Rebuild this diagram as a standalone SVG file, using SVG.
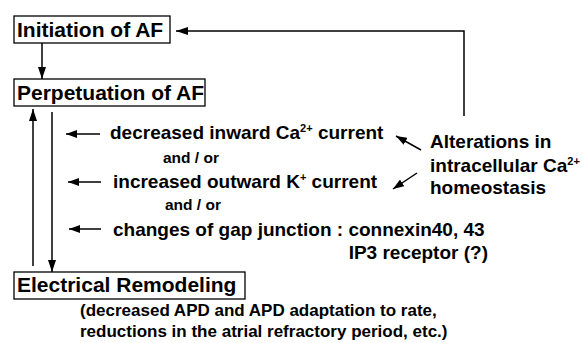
<svg xmlns="http://www.w3.org/2000/svg" width="583" height="343" viewBox="0 0 583 343">
<style>
.box{fill:#fff;stroke:#000;stroke-width:1.3}
.hd{font-family:"Liberation Sans",Arial,sans-serif;font-weight:bold;font-size:21px;fill:#000}
.tx{font-family:"Liberation Sans",Arial,sans-serif;font-weight:bold;font-size:19px;fill:#000}
.sm{font-family:"Liberation Sans",Arial,sans-serif;font-weight:bold;font-size:15.5px;fill:#000}
.nt{font-family:"Liberation Sans",Arial,sans-serif;font-weight:bold;font-size:17px;fill:#000}
.sup{font-size:11px}
.ln{fill:none;stroke:#000;stroke-width:1.5}
</style>
<defs>
<marker id="ah" viewBox="0 0 12 8" refX="12" refY="4" markerWidth="12" markerHeight="8" markerUnits="userSpaceOnUse" orient="auto">
<path d="M0,0 L12,4 L0,8 z" fill="#000"/>
</marker>
<marker id="ahs" viewBox="0 0 11 8" refX="11" refY="4" markerWidth="11" markerHeight="8" markerUnits="userSpaceOnUse" orient="auto">
<path d="M0,0 L11,4 L0,8 z" fill="#000"/>
</marker>
</defs>
<g id="connectors">
<path class="ln" d="M464,116 V31 H176" marker-end="url(#ah)"/>
<path class="ln" d="M42,43 V79" marker-end="url(#ah)"/>
<path class="ln" d="M33,266 V109" marker-end="url(#ah)"/>
<path class="ln" d="M52,112 V272" marker-end="url(#ah)"/>
<path class="ln" d="M100,134 H66" marker-end="url(#ahs)"/>
<path class="ln" d="M101,182 H68" marker-end="url(#ahs)"/>
<path class="ln" d="M101,229 H69" marker-end="url(#ahs)"/>
<path class="ln" d="M421,150 L396,136" marker-end="url(#ahs)"/>
<path class="ln" d="M417,173 L393,189" marker-end="url(#ahs)"/>
</g>
<g id="initiation">
<rect class="box" x="14" y="16" width="156" height="27"/>
<text class="hd" x="17" y="37">Initiation of AF</text>
</g>
<g id="perpetuation">
<rect class="box" x="14" y="79" width="191" height="27"/>
<text class="hd" x="17" y="100">Perpetuation of AF</text>
</g>
<g id="remodeling">
<rect class="box" x="14" y="272" width="231" height="27"/>
<text class="hd" x="17" y="292">Electrical Remodeling</text>
</g>
<g id="mechanisms">
<text class="tx" x="110" y="139">decreased inward Ca<tspan class="sup" dy="-7">2+</tspan><tspan dy="7"> current</tspan></text>
<text class="sm" x="163" y="163">and / or</text>
<text class="tx" x="113" y="188">increased outward K<tspan class="sup" dy="-7">+</tspan><tspan dy="7"> current</tspan></text>
<text class="sm" x="165" y="210">and / or</text>
<text class="tx" x="113" y="236">changes of gap junction : connexin40, 43</text>
<text class="tx" x="488" y="259" text-anchor="end">IP3 receptor (?)</text>
</g>
<g id="alterations">
<text class="tx" x="430" y="148">Alterations in</text>
<text class="tx" x="430" y="172">intracellular Ca<tspan class="sup" dy="-7">2+</tspan></text>
<text class="tx" x="430" y="194">homeostasis</text>
</g>
<g id="notes">
<text class="nt" x="80" y="316">(decreased APD and APD adaptation to rate,</text>
<text class="nt" x="80" y="337">reductions in the atrial refractory period, etc.)</text>
</g>
</svg>
